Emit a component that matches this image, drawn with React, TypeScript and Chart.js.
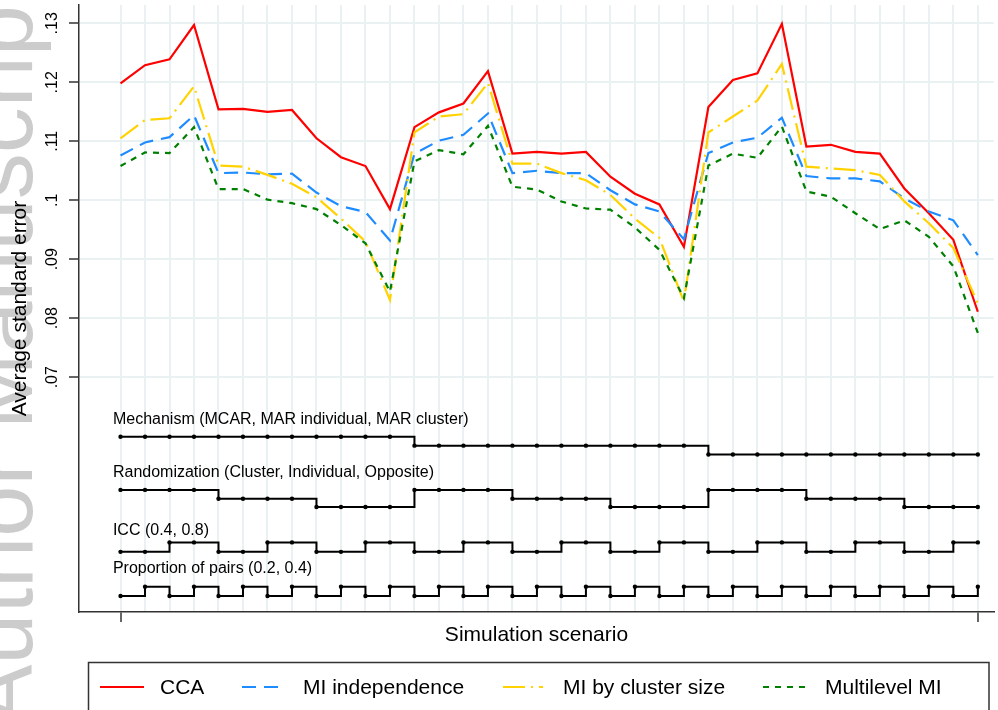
import React, { useEffect, useRef } from "react";
import { Chart, registerables } from "chart.js";

Chart.register(...registerables);

// ---------- data ----------
const scenarios = [
  1, 2, 3, 4, 5, 6, 7, 8, 9, 10, 11, 12,
  13, 14, 15, 16, 17, 18, 19, 20, 21, 22, 23, 24,
  25, 26, 27, 28, 29, 30, 31, 32, 33, 34, 35, 36,
];

const seriesNames = ["CCA", "MI independence", "MI by cluster size", "Multilevel MI"];

const cca = [
  0.1198, 0.1229, 0.1239, 0.1297, 0.1154, 0.1155, 0.115, 0.1153, 0.1105, 0.1073, 0.1058, 0.0985,
  0.1124, 0.1149, 0.1164, 0.1219, 0.1079, 0.1082, 0.1079, 0.1082, 0.104, 0.1011, 0.0993, 0.0921,
  0.1158, 0.1204, 0.1215, 0.1299, 0.1091, 0.1094, 0.1082, 0.1079, 0.102, 0.0978, 0.0933, 0.0811,
];

const miIndependence = [
  0.1076, 0.1098, 0.1107, 0.1144, 0.1046, 0.1047, 0.1044, 0.1045, 0.1013, 0.099, 0.098, 0.0932,
  0.1079, 0.1101, 0.1111, 0.1147, 0.1046, 0.105, 0.1046, 0.1046, 0.1017, 0.0993, 0.0981, 0.0934,
  0.108, 0.1098, 0.1106, 0.114, 0.1041, 0.1037, 0.1037, 0.1032, 0.1003, 0.0981, 0.0966, 0.0907,
];

const miClusterSize = [
  0.1105, 0.1136, 0.1139, 0.1193, 0.1059, 0.1057, 0.1043, 0.1028, 0.1005, 0.0969, 0.093, 0.0831,
  0.1115, 0.1142, 0.1146, 0.1199, 0.1062, 0.1062, 0.1046, 0.1034, 0.1009, 0.0969, 0.0936, 0.0828,
  0.1115, 0.1142, 0.1169, 0.1231, 0.1057, 0.1054, 0.1051, 0.1043, 0.0998, 0.0961, 0.0919, 0.0825,
];

const multilevelMI = [
  0.1058, 0.1081, 0.108, 0.1124, 0.1019, 0.1019, 0.1001, 0.0995, 0.0985, 0.0958, 0.0927, 0.0845,
  0.1066, 0.1085, 0.1078, 0.1126, 0.1023, 0.1018, 0.0998, 0.0986, 0.0984, 0.0954, 0.0916, 0.0834,
  0.1059, 0.1079, 0.1072, 0.1125, 0.1015, 0.1006, 0.0978, 0.0951, 0.0966, 0.0938, 0.0888, 0.0775,
];

// design factors (level index per scenario)
const mechanismCode = [
  0, 0, 0, 0, 0, 0, 0, 0, 0, 0, 0, 0,
  1, 1, 1, 1, 1, 1, 1, 1, 1, 1, 1, 1,
  2, 2, 2, 2, 2, 2, 2, 2, 2, 2, 2, 2,
];
const randomizationCode = [
  0, 0, 0, 0, 1, 1, 1, 1, 2, 2, 2, 2,
  0, 0, 0, 0, 1, 1, 1, 1, 2, 2, 2, 2,
  0, 0, 0, 0, 1, 1, 1, 1, 2, 2, 2, 2,
];
const iccCode = [
  0, 0, 1, 1, 0, 0, 1, 1, 0, 0, 1, 1,
  0, 0, 1, 1, 0, 0, 1, 1, 0, 0, 1, 1,
  0, 0, 1, 1, 0, 0, 1, 1, 0, 0, 1, 1,
];
const pairsCode = [
  0, 1, 0, 1, 0, 1, 0, 1, 0, 1, 0, 1,
  0, 1, 0, 1, 0, 1, 0, 1, 0, 1, 0, 1,
  0, 1, 0, 1, 0, 1, 0, 1, 0, 1, 0, 1,
];

// y-value of each level of each factor row (in axis units)
const mechanismLevels = [0.0599, 0.0584, 0.0569];
const randomizationLevels = [0.0509, 0.0494, 0.048];
const iccLevels = [0.0404, 0.042];
const pairsLevels = [0.0329, 0.0345];

const factorLabels = [
  "Mechanism (MCAR, MAR individual, MAR cluster)",
  "Randomization (Cluster, Individual, Opposite)",
  "ICC (0.4, 0.8)",
  "Proportion of pairs (0.2, 0.4)",
];
const factorLabelY = [0.0628, 0.0538, 0.044, 0.0375];
const factorLabelX = 0.69;

const yTicks = [0.07, 0.08, 0.09, 0.1, 0.11, 0.12, 0.13];

const yTitle = "Average standard error";
const xTitle = "Simulation scenario";
const watermark = "Author Manuscript";

// ---------- styles ----------
const FONT = '"Liberation Sans", Arial, Helvetica, sans-serif';
const seriesStyles = [
  { color: "#ff0000", dash: [] as number[] },
  { color: "#1e8cff", dash: [14, 8] },
  { color: "#ffd200", dash: [22, 6, 2, 6] },
  { color: "#008000", dash: [6, 6] },
];
const AXIS = "#333333";
const GRID = "#e9f1f3";

export default function App() {
  const canvasRef = useRef<HTMLCanvasElement | null>(null);

  useEffect(() => {
    const canvas = canvasRef.current;
    if (!canvas) return;

    const toPts = (arr: number[]) => arr.map((v, i) => ({ x: scenarios[i], y: v }));
    const seriesData = [cca, miIndependence, miClusterSize, multilevelMI];
    const factorRows = [
      mechanismCode.map((c) => mechanismLevels[c]),
      randomizationCode.map((c) => randomizationLevels[c]),
      iccCode.map((c) => iccLevels[c]),
      pairsCode.map((c) => pairsLevels[c]),
    ];

    const mainSets = seriesData.map((d, i) => ({
      label: seriesNames[i],
      data: toPts(d),
      borderColor: seriesStyles[i].color,
      backgroundColor: seriesStyles[i].color,
      borderDash: seriesStyles[i].dash,
      borderWidth: 2.2,
      pointRadius: 0,
      tension: 0,
      fill: false,
      order: 4 - i,
    }));
    const stepSets = factorRows.map((d, i) => ({
      label: factorLabels[i],
      data: toPts(d),
      borderColor: "#000",
      backgroundColor: "#000",
      pointBackgroundColor: "#000",
      pointBorderColor: "#000",
      borderWidth: 2,
      pointRadius: 2.2,
      pointBorderWidth: 0,
      stepped: true,
      fill: false,
      order: 0,
    }));

    const decorPlugin = {
      id: "decor",
      beforeDraw(chart: any) {
        const ctx = chart.ctx;
        ctx.save();
        ctx.translate(32, 726);
        ctx.rotate(-Math.PI / 2);
        ctx.font = `92px ${FONT}`;
        ctx.fillStyle = "#cccccc";
        ctx.textAlign = "left";
        ctx.textBaseline = "alphabetic";
        ctx.fillText(watermark, 0, 0);
        ctx.restore();
      },
      afterDraw(chart: any) {
        const ctx = chart.ctx;
        const xs = chart.scales.x;
        const ys = chart.scales.y;
        const area = chart.chartArea;
        ctx.save();
        // y tick labels (rotated)
        ctx.fillStyle = "#000";
        ctx.font = `16px ${FONT}`;
        ctx.textAlign = "center";
        ctx.textBaseline = "alphabetic";
        yTicks.forEach((v) => {
          const py = ys.getPixelForValue(v);
          ctx.save();
          ctx.translate(57, py);
          ctx.rotate(-Math.PI / 2);
          ctx.fillText(String(v).replace(/^0/, ""), 0, 0);
          ctx.restore();
        });
        // y title
        ctx.font = `21px ${FONT}`;
        ctx.save();
        ctx.translate(26, (area.top + area.bottom) / 2);
        ctx.rotate(-Math.PI / 2);
        ctx.fillText(yTitle, 0, 0);
        ctx.restore();
        // x title
        ctx.fillText(xTitle, (area.left + area.right) / 2, 641);
        // factor labels
        ctx.font = `16px ${FONT}`;
        ctx.textAlign = "left";
        ctx.textBaseline = "middle";
        factorLabels.forEach((t, i) => {
          ctx.fillText(t, xs.getPixelForValue(factorLabelX), ys.getPixelForValue(factorLabelY[i]));
        });
        // legend
        ctx.strokeStyle = AXIS;
        ctx.lineWidth = 1.5;
        ctx.strokeRect(88.5, 662.5, 900.5, 80);
        const sampleX = [100, 242, 503, 763];
        const sampleW = [44, 38, 40, 44];
        const textX = [160, 303, 563, 825];
        const ly = 687;
        seriesNames.forEach((name, i) => {
          ctx.beginPath();
          ctx.setLineDash(seriesStyles[i].dash);
          ctx.strokeStyle = seriesStyles[i].color;
          ctx.lineWidth = 2.2;
          ctx.moveTo(sampleX[i], ly);
          ctx.lineTo(sampleX[i] + sampleW[i], ly);
          ctx.stroke();
          ctx.setLineDash([]);
          ctx.fillStyle = "#000";
          ctx.font = `21px ${FONT}`;
          ctx.textAlign = "left";
          ctx.textBaseline = "alphabetic";
          ctx.fillText(name, textX[i], 694);
        });
        ctx.restore();
      },
    };

    const chart = new Chart(canvas, {
      type: "line",
      data: { datasets: [...mainSets, ...stepSets] as any },
      options: {
        animation: false,
        responsive: false,
        maintainAspectRatio: false,
        layout: { padding: { top: 5, left: 0, right: 0, bottom: 0 } },
        plugins: { legend: { display: false }, tooltip: { enabled: false } },
        scales: {
          x: {
            type: "linear",
            min: -0.695,
            max: 36.66,
            afterBuildTicks: (s: any) => {
              s.ticks = scenarios.map((v) => ({ value: v }));
            },
            afterFit: (s: any) => {
              s.height = 98;
            },
            ticks: { display: false },
            grid: {
              color: GRID,
              lineWidth: 2,
              drawTicks: true,
              tickLength: 10,
              tickWidth: 1.5,
              tickColor: (c: any) =>
                c.tick && (c.tick.value === scenarios[0] || c.tick.value === scenarios[scenarios.length - 1])
                  ? AXIS
                  : "rgba(0,0,0,0)",
            },
            border: { display: true, color: AXIS, width: 1.5 },
          },
          y: {
            type: "linear",
            min: 0.0302,
            max: 0.1331,
            afterBuildTicks: (s: any) => {
              s.ticks = yTicks.map((v) => ({ value: v }));
            },
            afterFit: (s: any) => {
              s.width = 79;
            },
            ticks: { display: false },
            grid: {
              color: GRID,
              lineWidth: 2,
              drawTicks: true,
              tickLength: 10,
              tickWidth: 1.5,
              tickColor: AXIS,
            },
            border: { display: true, color: AXIS, width: 1.5 },
          },
        },
      },
      plugins: [decorPlugin],
    });

    return () => chart.destroy();
  }, []);

  return (
    <div style={{ position: "absolute", left: 0, top: 0, width: 998, height: 710, background: "#fff" }}>
      <canvas ref={canvasRef} width={998} height={710} style={{ display: "block" }} />
    </div>
  );
}
